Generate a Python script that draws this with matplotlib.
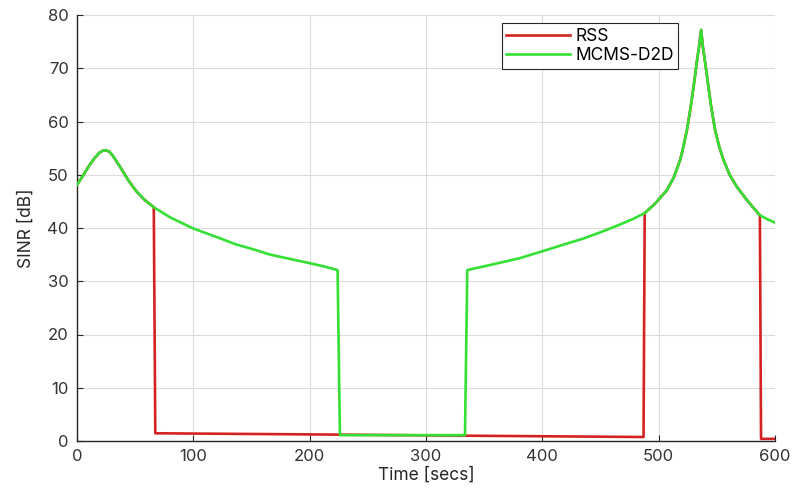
import numpy as np
import matplotlib
matplotlib.use("Agg")
import matplotlib.pyplot as plt

plt.rcParams['font.family'] = ['Inter', 'DejaVu Sans']

# MCMS-D2D curve (time [s], SINR [dB])
mcms_t = [0, 5, 11, 15, 19, 22, 25, 28, 31, 37, 44, 51, 58, 66, 80, 100, 120, 137, 150,
          166, 185, 200, 212, 224, 226, 333.5, 335.5, 350, 364, 380, 401, 420, 435, 450,
          465, 478, 488, 497, 507, 513, 518.5, 521, 524.3, 527, 530, 533, 535, 536.5,
          538, 540, 542.8, 545, 548.5, 552, 555.7, 561, 567, 575, 581, 587, 593, 600]
mcms_v = [48.1, 49.8, 51.9, 53.1, 54.1, 54.5, 54.6, 54.3, 53.5, 51.5, 49.0, 46.9, 45.3,
          43.9, 42.0, 39.9, 38.3, 36.9, 36.1, 35.0, 34.1, 33.4, 32.8, 32.1, 1.1, 1.1,
          32.1, 32.8, 33.5, 34.3, 35.7, 37.0, 38.0, 39.2, 40.5, 41.7, 42.8, 44.6, 47.1,
          49.5, 52.8, 55.0, 58.4, 62.0, 66.5, 71.5, 74.5, 77.2, 74.0, 71.0, 66.5, 63.0,
          58.4, 55.3, 52.8, 50.0, 47.8, 45.5, 43.9, 42.4, 41.7, 41.0]

# RSS: follows MCMS-D2D while connected, otherwise these low values
rss_drop1_t = [67.3, 225, 333, 487]
rss_drop1_v = [1.45, 1.2, 1.0, 0.75]
rss_drop2_t = [588, 600]
rss_drop2_v = [0.4, 0.4]

series_names = ['RSS', 'MCMS-D2D']
x_ticks = [0, 100, 200, 300, 400, 500, 600]
y_ticks = [0, 10, 20, 30, 40, 50, 60, 70, 80]

mt = np.array(mcms_t)
mv = np.array(mcms_v)
seg1 = mt <= 66
seg2 = (mt >= 488) & (mt <= 587)
rss_t = np.concatenate([mt[seg1], rss_drop1_t, mt[seg2], rss_drop2_t])
rss_v = np.concatenate([mv[seg1], rss_drop1_v, mv[seg2], rss_drop2_v])

fig = plt.figure(figsize=(7.92, 4.97), dpi=100)
ax = fig.add_axes([77/792, 1 - 441/497, (775-77)/792, (441-15)/497])

red = '#d42222'
green = '#33e033'
ax.plot(rss_t, rss_v, color=red, lw=1.9, label=series_names[0], zorder=3,
        solid_joinstyle='round')
ax.plot(mt, mv, color=green, lw=1.9, label=series_names[1], zorder=4,
        solid_joinstyle='round')

ax.set_xlim(0, 600)
ax.set_ylim(0, 80)
ax.set_xticks(x_ticks)
ax.set_yticks(y_ticks)
ax.grid(True, color='#dcdcdc', lw=0.8)
ax.set_axisbelow(True)
for s in ['top', 'right']:
    ax.spines[s].set_visible(False)
for s in ['left', 'bottom']:
    ax.spines[s].set_color('#262626')
    ax.spines[s].set_linewidth(1.0)
ax.tick_params(axis='both', direction='in', length=4, width=0.8, colors='#262626',
               labelsize=12, labelcolor='#333333')
ax.tick_params(axis='x', pad=6)
ax.tick_params(axis='y', pad=6)

ax.set_xlabel('Time [secs]', fontsize=12.5, color='#262626', labelpad=2)
ax.set_ylabel('SINR [dB]', fontsize=12.5, color='#262626', labelpad=9)

leg = ax.legend(loc='upper left', bbox_to_anchor=(501.7/792, 1 - 23.3/497),
                bbox_transform=fig.transFigure, fontsize=12.5, fancybox=False,
                edgecolor='#262626', framealpha=1, borderaxespad=0, borderpad=0.25,
                handlelength=3.7, handletextpad=0.3, labelspacing=0.15)
leg.get_frame().set_linewidth(0.8)

fig.savefig('out.png', dpi=100)
